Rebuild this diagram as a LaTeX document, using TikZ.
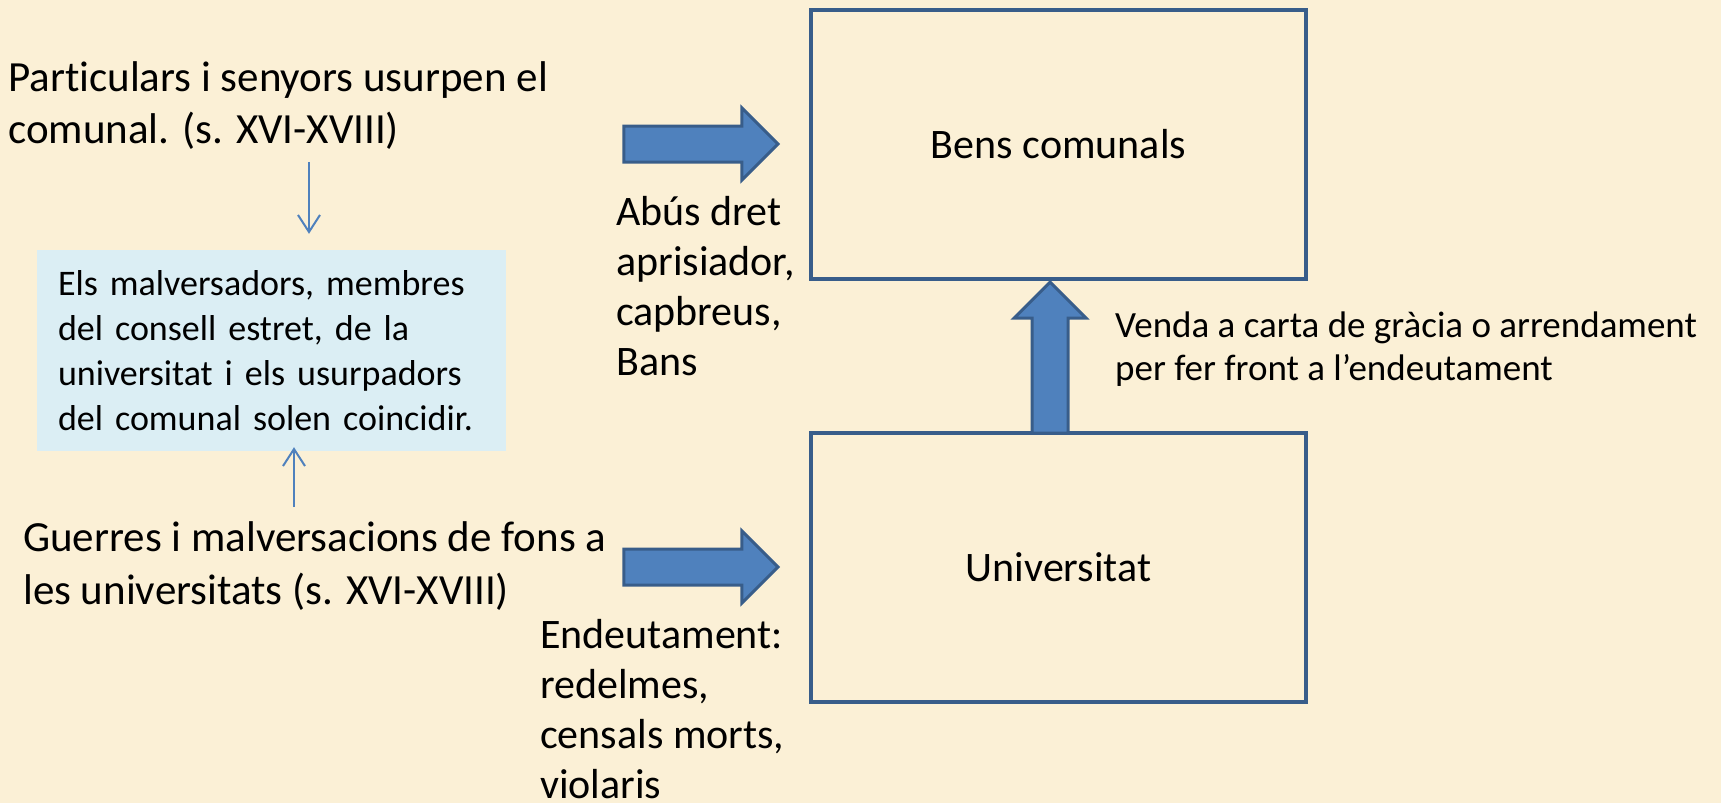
\documentclass[tikz,border=0pt]{standalone}
\usepackage{fontspec}
\setmainfont{Carlito}[Ligatures=NoCommon]
\usetikzlibrary{shapes.arrows,arrows.meta}

\definecolor{parch}{RGB}{251,240,214}
\definecolor{boxline}{RGB}{56,93,138}
\definecolor{arrfill}{RGB}{79,129,189}
\definecolor{aqua}{RGB}{219,238,244}

\tikzstyle{txt} = [anchor=base west, inner sep=0pt, align=left]
\tikzstyle{bigbox} = [rectangle, draw=boxline, line width=4pt, minimum width=495pt, minimum height=269pt, font=\fontsize{42}{50}\selectfont]
\tikzstyle{fat} = [single arrow, anchor=tip, fill=arrfill, draw=boxline, line width=3pt, inner sep=0pt, inner ysep=16.5pt, single arrow head extend=18pt, minimum height=154pt]
\tikzstyle{thinarr} = [-{Straight Barb[length=17pt,width=22pt]}, draw=arrfill, line width=2pt]

\begin{document}
\begin{tikzpicture}[x=1pt, y=-1pt]

	\useasboundingbox (0,0) rectangle (1721,803);
	\fill[parch] (0,0) rectangle (1721,803);

	\node[bigbox] (bens) at (1058.5,144.5) {Bens comunals};
	\node[bigbox] (univ) at (1058.5,567.5) {Universitat};

	\node[fat] (abusarr) at (780,144) {};
	\node[fat] (deutearr) at (780,567) {};
	\node[fat, minimum height=151pt, rotate=90] (vendaarr) at (1050,280) {};

	\node[rectangle, fill=aqua, minimum width=469pt, minimum height=201pt, text width=427pt, align=left, inner sep=0pt, font=\fontsize{36}{45}\selectfont] (malv) at (271.5,350.5) {Els malversadors, membres\\del consell estret, de la\\universitat i els usurpadors\\del comunal solen coincidir.};

	% base west = baseline of the last line
	\node[txt, font=\fontsize{43}{52}\selectfont] (partic) at (8,143) {Particulars i senyors usurpen el\\comunal. (s. XVI-XVIII)};
	\node[txt, font=\fontsize{43}{53}\selectfont] (guerres) at (23,604) {Guerres i malversacions de fons a\\les universitats (s. XVI-XVIII)};
	\node[txt, font=\fontsize{42}{50}\selectfont] (abus) at (616,375) {Abús dret\\aprisiador,\\capbreus,\\Bans};
	\node[txt, font=\fontsize{42}{50}\selectfont] (deute) at (540,798) {Endeutament:\\redelmes,\\censals morts,\\violaris};
	\node[txt, font=\fontsize{37}{43}\selectfont] (venda) at (1115,380) {Venda a carta de gràcia o arrendament\\per fer front a l’endeutament};

	\draw[thinarr] ([xshift=37.5pt,yshift=88pt]malv.north) -- ([xshift=37.5pt,yshift=16pt]malv.north);
	\draw[thinarr] ([xshift=22.5pt,yshift=-56pt]malv.south) -- ([xshift=22.5pt,yshift=4pt]malv.south);

\end{tikzpicture}
\end{document}
